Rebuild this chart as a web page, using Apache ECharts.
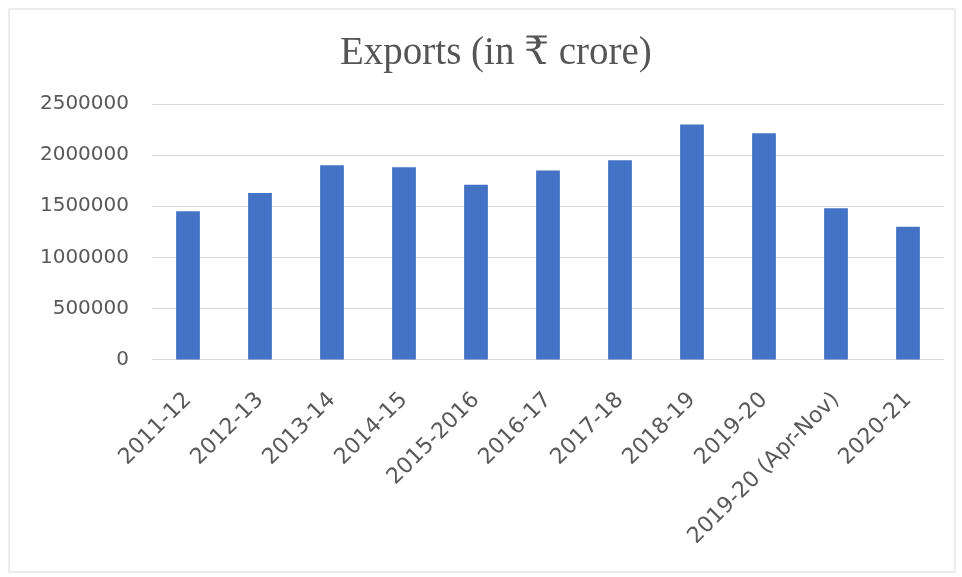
<!DOCTYPE html>
<html>
<head>
<meta charset="utf-8">
<script src="https://cdn.jsdelivr.net/npm/echarts@6/dist/echarts.min.js"></script>
<style>
  html, body { margin: 0; padding: 0; background: #ffffff; }
  #chart { width: 962px; height: 577px; }
</style>
</head>
<body>
<div id="chart"></div>
<script>
// Financial years shown on the category axis
const years = [
  '2011-12', '2012-13', '2013-14', '2014-15', '2015-2016', '2016-17',
  '2017-18', '2018-19', '2019-20', '2019-20 (Apr-Nov)', '2020-21'
];

// Export value for each year, in ₹ crore
const exportsCrore = [
  1450000, 1630000, 1900000, 1880000, 1710000, 1850000,
  1950000, 2300000, 2215000, 1480000, 1300000
];

// Value axis ticks
const yTicks = [0, 500000, 1000000, 1500000, 2000000, 2500000];

const chart = echarts.init(document.getElementById('chart'));

chart.setOption({
  backgroundColor: '#ffffff',
  animation: false,
  title: {
    text: 'Exports (in ₹ crore)',
    left: 335,
    top: 29,
    textStyle: {
      fontFamily: 'Liberation Serif, DejaVu Serif, serif',
      fontSize: 39,
      fontWeight: 'normal',
      color: '#555555'
    }
  },
  graphic: [{
    type: 'rect',
    shape: { x: 9, y: 9, width: 946, height: 563 },
    style: { fill: 'none', stroke: '#d9d9d9', lineWidth: 1 },
    silent: true
  }],
  grid: {
    left: 152,
    right: 18,
    top: 104,
    height: 255.5
  },
  xAxis: {
    type: 'category',
    data: years,
    axisLine: { lineStyle: { color: '#d9d9d9' } },
    axisTick: { show: false },
    axisLabel: {
      rotate: 45,
      interval: 0,
      color: '#595959',
      fontFamily: 'DejaVu Sans, sans-serif',
      fontSize: 22,
      margin: 37
    }
  },
  yAxis: {
    type: 'value',
    min: yTicks[0],
    max: yTicks[yTicks.length - 1],
    interval: yTicks[1] - yTicks[0],
    axisLine: { show: false },
    axisTick: { show: false },
    splitLine: { lineStyle: { color: '#d9d9d9', width: 1 } },
    axisLabel: {
      color: '#595959',
      fontFamily: 'DejaVu Sans, sans-serif',
      fontSize: 20,
      margin: 23,
      formatter: (v) => String(v)
    }
  },
  series: [{
    type: 'bar',
    data: exportsCrore,
    barWidth: '33%',
    itemStyle: { color: '#4472c4' }
  }]
});
</script>
</body>
</html>
